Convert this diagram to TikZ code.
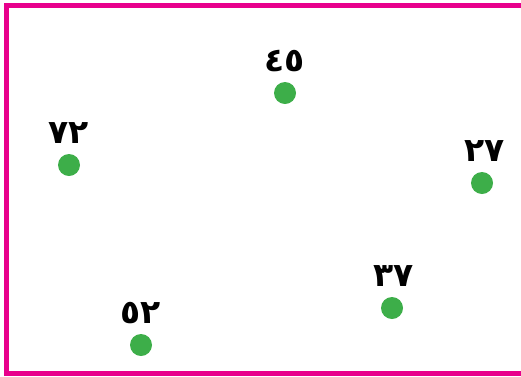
\documentclass[tikz,border=0pt]{standalone}
\usepackage{fontspec}
\usepackage{xcolor}
\usepackage{tikz}
\usetikzlibrary{positioning}
\newfontfamily\arabicfont[Script=Arabic]{DejaVu Sans}
\definecolor{framepink}{RGB}{232,0,140}
\definecolor{dotgreen}{RGB}{61,174,73}
\tikzset{
  frm/.style={draw=framepink,line width=5pt},
  pt/.style={circle,fill=dotgreen,inner sep=0pt,minimum size=22pt},
  lbl/.style={font=\arabicfont\bfseries\fontsize{33}{36}\selectfont,inner sep=0pt}
}
\begin{document}
\begin{tikzpicture}[x=1pt,y=-1pt]
\clip (0,0) rectangle (521,376);
\draw[frm] (6.5,5.5) rectangle (540,373.5);
\node[pt] (d45) at (285,93) {};
\node[lbl,above=10pt of d45] (l45) {٤٥};
\node[pt] (d72) at (69,165) {};
\node[lbl,above=10pt of d72] (l72) {٧٢};
\node[pt] (d27) at (482,183) {};
\node[lbl,above=10pt of d27,xshift=3pt] (l27) {٢٧};
\node[pt] (d37) at (392,308) {};
\node[lbl,above=10pt of d37,xshift=2pt] (l37) {٣٧};
\node[pt] (d52) at (141,345) {};
\node[lbl,above=10pt of d52] (l52) {٥٢};
\end{tikzpicture}
\end{document}
